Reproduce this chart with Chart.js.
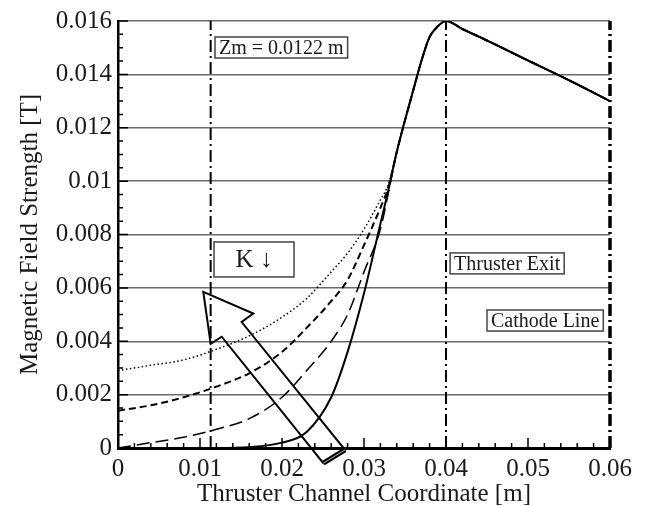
<!DOCTYPE html>
<html>
<head>
<meta charset="utf-8">
<title>Magnetic Field Strength</title>
<script src="https://cdn.jsdelivr.net/npm/chart.js@4.4.1/dist/chart.umd.min.js"></script>
<style>
  html, body { margin: 0; padding: 0; background: #fff; }
  #wrap { width: 649px; height: 506px; }
</style>
</head>
<body>
<div id="wrap"><canvas id="fieldChart" width="649" height="506"></canvas></div>
<script>
// Channel coordinate samples [m]
const xValues = [0, 0.004, 0.008, 0.012, 0.016, 0.020, 0.023, 0.026, 0.028, 0.030, 0.032, 0.033, 0.034, 0.036, 0.037, 0.038, 0.039, 0.040, 0.042, 0.045, 0.050, 0.055, 0.060];

// Magnetic field [T] for each K value
const solidB  = [0, 0, 0, 0, 0.00003, 0.0002, 0.0006, 0.0019, 0.0036, 0.0058, 0.0084, 0.0097, 0.0111, 0.0134, 0.0145, 0.0154, 0.0158, 0.0160, 0.0157, 0.01527, 0.01452, 0.01378, 0.0130];
const dottedB = [0.0029, 0.0031, 0.0033, 0.0037, 0.0042, 0.0049, 0.0056, 0.0066, 0.0073, 0.0082, 0.0093, 0.0099, 0.0111, 0.0134, 0.0145, 0.0154, 0.0158, 0.0160, 0.0157, 0.01527, 0.01452, 0.01378, 0.0130];
const shortB  = [0.0014, 0.0016, 0.0019, 0.0023, 0.0028, 0.0036, 0.0045, 0.0055, 0.0063, 0.0076, 0.0090, 0.0098, 0.0111, 0.0134, 0.0145, 0.0154, 0.0158, 0.0160, 0.0157, 0.01527, 0.01452, 0.01378, 0.0130];
const longB   = [0, 0.0002, 0.0004, 0.0007, 0.0011, 0.0019, 0.0029, 0.0040, 0.0050, 0.0066, 0.0082, 0.0096, 0.0111, 0.0134, 0.0145, 0.0154, 0.0158, 0.0160, 0.0157, 0.01527, 0.01452, 0.01378, 0.0130];

// Vertical marker lines [m]: Zm, thruster exit, cathode line
const zmX = 0.0113;
const exitX = 0.040;
const cathodeX = 0.060;

// Tick labels
const xTickLabels = ['0', '0.01', '0.02', '0.03', '0.04', '0.05', '0.06'];
const yTickLabels = ['0', '0.002', '0.004', '0.006', '0.008', '0.01', '0.012', '0.014', '0.016'];

Chart.defaults.font.family = '"Liberation Serif", "Times New Roman", serif';
Chart.defaults.color = '#1a1a1a';

function toPoints(ys) {
    return xValues.map((x, i) => ({ x: x, y: ys[i] }));
}

function curve(ys, width, dash) {
    return {
        data: toPoints(ys),
        showLine: true,
        borderColor: '#000',
        borderWidth: width,
        borderDash: dash,
        pointRadius: 0,
        cubicInterpolationMode: 'monotone',
        fill: false
    };
}

function marker(x, width) {
    return {
        data: [{ x: x, y: 0 }, { x: x, y: 0.016 }],
        showLine: true,
        borderColor: '#000',
        borderWidth: width,
        borderDash: [12, 4, 2, 4],
        pointRadius: 0,
        clip: false
    };
}

// inward tick marks, text boxes and the big K arrow
const decorations = {
    id: 'decorations',
    afterDraw(chart) {
        const ctx = chart.ctx;
        const xs = chart.scales.x;
        const ys = chart.scales.y;
        const area = chart.chartArea;
        ctx.save();
        ctx.strokeStyle = '#000';
        ctx.lineWidth = 1.5;
        ctx.beginPath();
        for (let i = 0; i <= 32; i++) {
            const py = ys.getPixelForValue(i * 0.0005);
            const len = i % 4 === 0 ? 10 : 5;
            ctx.moveTo(area.left, py);
            ctx.lineTo(area.left + len, py);
        }
        for (let i = 0; i <= 30; i++) {
            const px = xs.getPixelForValue(i * 0.002);
            const len = i % 5 === 0 ? 10 : 5;
            ctx.moveTo(px, area.bottom);
            ctx.lineTo(px, area.bottom - len);
        }
        ctx.stroke();

        // labelled boxes
        function box(text, x, y, size, padX, h, minW) {
            ctx.font = size + 'px "Liberation Serif", serif';
            const tw = ctx.measureText(text).width;
            const w = Math.max(tw + padX * 2, minW || 0);
            const left = xs.getPixelForValue(x);
            const top = ys.getPixelForValue(y);
            ctx.fillStyle = '#fff';
            ctx.fillRect(left, top, w, h);
            ctx.strokeStyle = '#444';
            ctx.lineWidth = 1.5;
            ctx.strokeRect(left, top, w, h);
            ctx.fillStyle = '#1a1a1a';
            ctx.textAlign = 'center';
            ctx.textBaseline = 'middle';
            ctx.fillText(text, left + w / 2, top + h / 2 + 1);
        }
        box('Zm = 0.0122 m', 0.01183, 0.0154, 20, 4, 21);
        box('K \u2193', 0.01171, 0.00772, 25, 15, 35, 80);
        box('Thruster Exit', 0.0405, 0.00731, 20, 4, 21);
        box('Cathode Line', 0.0450, 0.00517, 20, 4, 21);

        // hollow arrow
        const arrow = [
            [0.01040, 0.00585], [0.01650, 0.00504], [0.01508, 0.00472],
            [0.02768, -0.00007], [0.02504, -0.00057], [0.01265, 0.00417],
            [0.01130, 0.00390]
        ];
        const pts = arrow.map(p => [xs.getPixelForValue(p[0]), ys.getPixelForValue(p[1])]);
        ctx.strokeStyle = '#000';
        ctx.lineWidth = 2;
        ctx.lineJoin = 'miter';
        ctx.beginPath();
        pts.forEach((p, i) => i === 0 ? ctx.moveTo(p[0], p[1]) : ctx.lineTo(p[0], p[1]));
        ctx.closePath();
        ctx.stroke();
        // thick base
        ctx.lineWidth = 5;
        ctx.beginPath();
        ctx.moveTo(pts[3][0], pts[3][1]);
        ctx.lineTo(pts[4][0], pts[4][1]);
        ctx.stroke();
        ctx.strokeStyle = '#bbb';
        ctx.lineWidth = 1;
        ctx.beginPath();
        ctx.moveTo(pts[3][0], pts[3][1]);
        ctx.lineTo(pts[4][0], pts[4][1]);
        ctx.stroke();
        ctx.restore();
    }
};

const ctx = document.getElementById('fieldChart').getContext('2d');
const fieldChart = new Chart(ctx, {
    type: 'scatter',
    data: {
        datasets: [
            curve(dottedB, 1.5, [1.5, 2.5]),
            curve(shortB, 2, [7, 4]),
            curve(longB, 1.5, [13, 6]),
            curve(solidB, 2, []),
            marker(zmX, 2),
            marker(exitX, 2),
            marker(cathodeX, 3.5)
        ]
    },
    options: {
        responsive: false,
        animation: false,
        devicePixelRatio: 1,
        layout: { padding: { left: 0, top: 21, right: 39, bottom: 0 } },
        plugins: {
            legend: { display: false },
            tooltip: { enabled: false }
        },
        scales: {
            x: {
                type: 'linear',
                min: 0,
                max: 0.06,
                ticks: {
                    stepSize: 0.01,
                    maxRotation: 0,
                    autoSkip: false,
                    padding: 6,
                    font: { size: 25 },
                    callback: (v, i) => xTickLabels[i]
                },
                grid: { display: false, drawTicks: false },
                border: { display: true, color: '#000', width: 3 },
                title: {
                    display: true,
                    text: 'Thruster Channel Coordinate [m]',
                    font: { size: 25 },
                    padding: { top: 0, bottom: -3 }
                },
                afterFit: s => { s.height = 58; }
            },
            y: {
                type: 'linear',
                min: 0,
                max: 0.016,
                ticks: {
                    stepSize: 0.002,
                    autoSkip: false,
                    padding: 6,
                    font: { size: 25 },
                    callback: (v, i) => yTickLabels[i]
                },
                grid: { color: '#6b6b6b', lineWidth: 1.5, drawTicks: false },
                border: { display: true, color: '#000', width: 2.5 },
                title: {
                    display: true,
                    text: 'Magnetic Field Strength [T]',
                    font: { size: 25 },
                    padding: { top: 15, bottom: 0 }
                },
                afterFit: s => { s.width = 118; }
            }
        }
    },
    plugins: [decorations]
});
</script>
</body>
</html>
